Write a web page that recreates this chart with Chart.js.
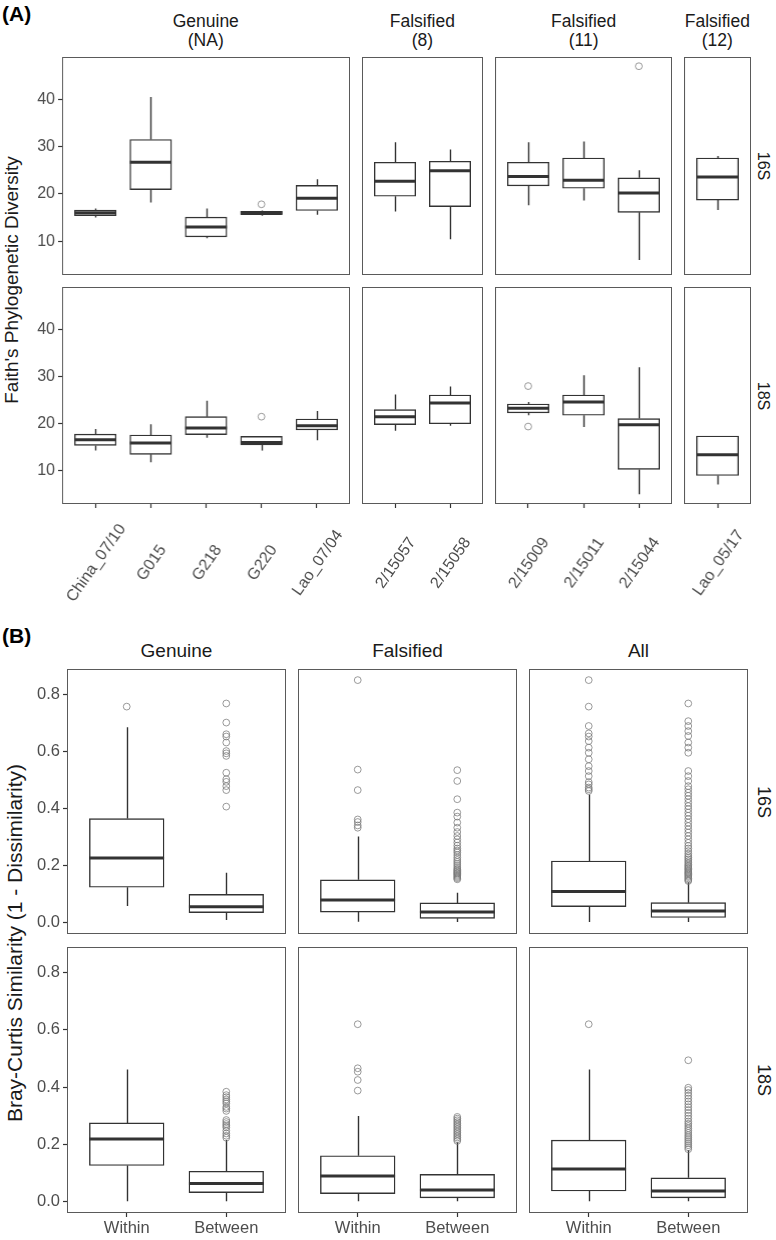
<!DOCTYPE html>
<html>
<head>
<meta charset="utf-8">
<script src="https://cdn.jsdelivr.net/npm/chart.js@4.4.1/dist/chart.umd.min.js"></script>
<style>
  body { margin: 0; background: #fff; font-family: "Liberation Sans", Arial, sans-serif; }
  #wrap { position: relative; width: 776px; height: 1240px; overflow: hidden; }
  #wrap canvas { position: absolute; }
  .t { position: absolute; color: #1a1a1a; white-space: nowrap; }
  .strip { text-align: center; }
  .side { transform: translate(-50%, -50%) rotate(90deg); }
  .ytitle { transform: translate(-50%, -50%) rotate(-90deg); }
  .tag { font-size: 21px; font-weight: bold; color: #000; }
</style>
</head>
<body>
<div id="wrap"></div>
<script>
// ---- panel A : Faith's phylogenetic diversity ----
const groupsA = ["Genuine<br>(NA)", "Falsified<br>(8)", "Falsified<br>(11)", "Falsified<br>(12)"];
const samplesA = [
  ["China_07/10", "G015", "G218", "G220", "Lao_07/04"],
  ["2/15057", "2/15058"],
  ["2/15009", "2/15011", "2/15044"],
  ["Lao_05/17"]
];
// [min, q1, median, q3, max]
const faith16S = [
  [[15.0, 15.4, 16.0, 16.6, 16.9], [18.2, 20.9, 26.7, 31.5, 40.5], [10.6, 10.9, 13.0, 15.1, 16.9], [15.4, 15.6, 16.0, 16.3, 16.5], [15.6, 16.5, 19.1, 21.8, 23.1]],
  [[16.3, 19.5, 22.7, 26.7, 30.9], [10.4, 17.3, 24.9, 26.9, 29.4]],
  [[17.6, 21.7, 23.7, 26.7, 30.9], [18.6, 21.2, 22.9, 27.6, 31.1], [6.0, 16.1, 20.2, 23.4, 25.0]],
  [[16.6, 18.7, 23.6, 27.6, 28.0]]
];
const faith16SOut = [
  [[], [], [], [17.8], []],
  [[], []],
  [[], [], [47.0]],
  [[]]
];
const faith18S = [
  [[14.2, 15.3, 16.5, 17.7, 18.8], [11.7, 13.4, 15.8, 17.5, 19.8], [16.9, 17.6, 19.0, 21.4, 24.8], [14.2, 15.4, 15.9, 17.2, 17.2], [16.4, 18.6, 19.5, 20.9, 22.6]],
  [[18.4, 19.7, 21.4, 22.9, 26.1], [19.5, 19.9, 24.3, 26.0, 27.8]],
  [[21.7, 22.2, 23.2, 24.1, 24.5], [19.2, 21.7, 24.5, 26.0, 30.2], [4.9, 10.2, 19.7, 21.0, 31.9]],
  [[7.0, 8.9, 13.3, 17.3, 17.3]]
];
const faith18SOut = [
  [[], [], [], [21.4], []],
  [[], []],
  [[27.9, 19.3], [], []],
  [[]]
];
const faithTicks = [10, 20, 30, 40];

// ---- panel B : Bray-Curtis similarity ----
const groupsB = ["Genuine", "Falsified", "All"];
const comparisons = ["Within", "Between"];
const bray16S = [
  [[0.058, 0.124, 0.227, 0.365, 0.686], [0.009, 0.035, 0.056, 0.099, 0.175]],
  [[0.003, 0.037, 0.079, 0.150, 0.302], [0.002, 0.015, 0.037, 0.069, 0.105]],
  [[0.002, 0.056, 0.109, 0.216, 0.450], [0.002, 0.018, 0.041, 0.070, 0.142]]
];
const bray16SOut = [
  [[0.758], [0.407, 0.465, 0.479, 0.494, 0.503, 0.526, 0.585, 0.594, 0.602, 0.632, 0.653, 0.661, 0.702, 0.769]],
  [[0.333, 0.341, 0.353, 0.362, 0.465, 0.537, 0.851],
   [0.152, 0.156, 0.160, 0.164, 0.168, 0.172, 0.175, 0.179, 0.183, 0.187, 0.192, 0.199, 0.206, 0.213, 0.220, 0.228, 0.237,
    0.246, 0.253, 0.260, 0.270, 0.281, 0.292, 0.304, 0.318, 0.333, 0.351, 0.372, 0.386, 0.433, 0.497, 0.535]],
  [[0.462, 0.468, 0.474, 0.485, 0.493, 0.514, 0.532, 0.549, 0.573, 0.596, 0.614, 0.637, 0.653, 0.664, 0.690, 0.758, 0.851],
   [0.146, 0.150, 0.155, 0.160, 0.164, 0.169, 0.173, 0.177, 0.181, 0.186, 0.190, 0.195, 0.199, 0.204, 0.210, 0.216, 0.222,
    0.228, 0.234, 0.242, 0.251, 0.260, 0.269, 0.280, 0.292, 0.304, 0.316, 0.327, 0.339, 0.351, 0.363, 0.375, 0.386, 0.398,
    0.409, 0.421, 0.433, 0.445, 0.456, 0.468, 0.479, 0.497, 0.514, 0.532, 0.596, 0.614, 0.632, 0.655, 0.672, 0.690, 0.707, 0.769]]
];
const bray18S = [
  [[0.001, 0.126, 0.219, 0.275, 0.462], [0.001, 0.031, 0.063, 0.106, 0.215]],
  [[0.001, 0.028, 0.089, 0.160, 0.299], [0.001, 0.013, 0.040, 0.095, 0.207]],
  [[0.001, 0.037, 0.114, 0.215, 0.462], [0.001, 0.013, 0.037, 0.083, 0.180]]
];
const bray18SOut = [
  [[], [0.223, 0.230, 0.238, 0.248, 0.259, 0.265, 0.271, 0.278, 0.285, 0.317, 0.325, 0.331, 0.343, 0.350, 0.357, 0.365, 0.372, 0.384]],
  [[0.388, 0.425, 0.454, 0.466, 0.620],
   [0.212, 0.218, 0.224, 0.230, 0.236, 0.242, 0.248, 0.254, 0.260, 0.266, 0.272, 0.278, 0.284, 0.290, 0.296]],
  [[0.620],
   [0.183, 0.190, 0.197, 0.204, 0.211, 0.218, 0.225, 0.232, 0.240, 0.248, 0.256, 0.264, 0.272, 0.280, 0.290, 0.300,
    0.310, 0.320, 0.330, 0.340, 0.350, 0.360, 0.370, 0.380, 0.390, 0.398, 0.494]]
];
const brayTicks = [0, 0.2, 0.4, 0.6, 0.8];

const wrap = document.getElementById("wrap");
const INK = "#333333";
const FONT = "'Liberation Sans', Arial, sans-serif";

// whiskers + medians + panel frame, all placed with the chart's scales
const boxPlugin = {
  id: "boxplot",
  beforeDatasetsDraw(chart) {
    const ds = chart.data.datasets[0];
    const xs = chart.scales.x, ys = chart.scales.y, ctx = chart.ctx;
    ctx.save();
    ctx.strokeStyle = INK;
    ctx.lineWidth = 1.4;
    ds.stats.forEach((s, i) => {
      const x = Math.round(xs.getPixelForValue(i)) + 0.5;
      ctx.beginPath();
      ctx.moveTo(x, ys.getPixelForValue(s[0]));
      ctx.lineTo(x, ys.getPixelForValue(s[1]));
      ctx.moveTo(x, ys.getPixelForValue(s[3]));
      ctx.lineTo(x, ys.getPixelForValue(s[4]));
      ctx.stroke();
    });
    ctx.restore();
  },
  afterDatasetsDraw(chart) {
    const ds = chart.data.datasets[0];
    const xs = chart.scales.x, ys = chart.scales.y, ctx = chart.ctx;
    const half = ds.barThickness / 2;
    ctx.save();
    ctx.strokeStyle = INK;
    ctx.lineWidth = 3;
    ds.stats.forEach((s, i) => {
      const x = xs.getPixelForValue(i), y = ys.getPixelForValue(s[2]);
      ctx.beginPath();
      ctx.moveTo(x - half, y);
      ctx.lineTo(x + half, y);
      ctx.stroke();
    });
    const a = chart.chartArea;
    ctx.strokeStyle = "#5a5a5a";
    ctx.lineWidth = 1;
    ctx.strokeRect(Math.round(a.left) + 0.5, Math.round(a.top) + 0.5, Math.round(a.right - a.left) - 1, Math.round(a.bottom - a.top) - 1);
    ctx.restore();
  }
};

// slanted sample names, centred under their tick like ggplot's angle=55, hjust=0.5
function slantPlugin(labels, size) {
  return {
    id: "slant",
    afterDraw(chart) {
      const xs = chart.scales.x, ctx = chart.ctx, bottom = chart.chartArea.bottom;
      ctx.save();
      ctx.fillStyle = "#4d4d4d";
      ctx.font = size + "px " + FONT;
      ctx.textAlign = "center";
      ctx.textBaseline = "middle";
      labels.forEach((l, i) => {
        ctx.save();
        ctx.translate(xs.getPixelForValue(i) + 1, bottom + 59);
        ctx.rotate(-55 * Math.PI / 180);
        ctx.fillText(l, 0, 0);
        ctx.restore();
      });
      ctx.restore();
    }
  };
}

function noPad(s) {
  s.paddingLeft = 0; s.paddingRight = 0; s.paddingTop = 0; s.paddingBottom = 0;
}

function facet(o) {
  const padL = o.showY ? o.axW : 0;
  const padB = o.showX ? o.axH : 0;
  const c = document.createElement("canvas");
  c.width = o.w + padL;
  c.height = o.h + padB;
  c.style.left = (o.x - padL) + "px";
  c.style.top = o.y + "px";
  c.style.width = (o.w + padL) + "px";
  c.style.height = (o.h + padB) + "px";
  wrap.appendChild(c);

  const n = o.labels.length;
  const unit = o.w / (n + 0.2);
  const pts = [];
  o.out.forEach((vals, i) => vals.forEach(v => pts.push({ x: i, y: v })));

  const tickFont = { family: FONT, size: o.tickSize };
  const tickGrid = { offset: false, drawOnChartArea: false, drawTicks: true, tickLength: 4, tickWidth: 1.2, tickColor: INK, color: INK };
  const plugins = [boxPlugin];
  if (o.showX && o.slant) plugins.push(slantPlugin(o.labels, o.tickSize));

  new Chart(c, {
    type: "bar",
    data: {
      datasets: [
        {
          type: "bar",
          data: o.stats.map((s, i) => ({ x: i, y: [s[1], s[3]] })),
          stats: o.stats,
          backgroundColor: "#ffffff",
          borderColor: INK,
          borderWidth: 1.4,
          borderSkipped: false,
          barThickness: unit * 0.75
        },
        {
          type: "scatter",
          data: pts,
          pointRadius: 3.4,
          borderWidth: 1,
          borderColor: "rgba(120,120,120,0.75)",
          backgroundColor: "rgba(0,0,0,0)"
        }
      ]
    },
    options: {
      responsive: false,
      animation: false,
      devicePixelRatio: 1,
      layout: { padding: 0, autoPadding: false },
      plugins: { legend: { display: false }, tooltip: { enabled: false } },
      scales: {
        x: {
          type: "linear",
          offset: false,
          min: -0.6,
          max: n - 0.4,
          display: o.showX,
          afterBuildTicks: s => { s.ticks = o.labels.map((l, i) => ({ value: i })); },
          afterFit: s => { s.height = o.showX ? o.axH : 0; noPad(s); },
          ticks: {
            display: !o.slant,
            callback: v => o.labels[v],
            autoSkip: false,
            maxRotation: 0,
            color: "#4d4d4d",
            font: tickFont,
            padding: 2
          },
          grid: tickGrid,
          border: { display: false }
        },
        y: {
          min: o.yMin,
          max: o.yMax,
          display: o.showY,
          afterBuildTicks: s => { s.ticks = o.yTicks.map(v => ({ value: v })); },
          afterFit: s => { s.width = o.showY ? o.axW : 0; noPad(s); },
          ticks: {
            callback: v => o.fmt(v),
            color: "#4d4d4d",
            font: tickFont,
            padding: 3
          },
          grid: tickGrid,
          border: { display: false }
        }
      }
    },
    plugins: plugins
  });
}

function text(cls, html, css) {
  const d = document.createElement("div");
  d.className = "t " + cls;
  d.innerHTML = html;
  Object.assign(d.style, css);
  wrap.appendChild(d);
}

// ---- layout of panel A ----
const unitA = 55.3;
let xA = 62;
const rowsA = [{ y: 57, h: 218, stats: faith16S, out: faith16SOut, side: "16S" },
               { y: 287, h: 217, stats: faith18S, out: faith18SOut, side: "18S" }];
samplesA.forEach((labels, g) => {
  const w = unitA * (labels.length + 0.2);
  rowsA.forEach((r, ri) => {
    facet({
      x: xA, y: r.y, w: w, h: r.h, labels: labels,
      stats: r.stats[g], out: r.out[g],
      showY: g === 0, showX: ri === 1, axW: 34, axH: 112, slant: true, tickSize: 16,
      yMin: 2.85, yMax: 48.95, yTicks: faithTicks, fmt: v => String(v)
    });
  });
  text("strip", groupsA[g], { left: xA + "px", top: "12px", width: w + "px", fontSize: "17.5px", lineHeight: "19px" });
  xA += w + 12;
});
rowsA.forEach(r => text("side", r.side, { left: "763px", top: (r.y + r.h / 2) + "px", fontSize: "16px" }));
text("ytitle", "Faith's Phylogenetic Diversity", { left: "12px", top: "280px", fontSize: "19px" });
text("tag", "(A)", { left: "2px", top: "2px" });

// ---- layout of panel B ----
const rowsB = [{ y: 669, h: 265, stats: bray16S, out: bray16SOut, side: "16S" },
               { y: 947, h: 266, stats: bray18S, out: bray18SOut, side: "18S" }];
groupsB.forEach((name, g) => {
  const x = 67 + g * 231;
  rowsB.forEach((r, ri) => {
    facet({
      x: x, y: r.y, w: 219, h: r.h, labels: comparisons,
      stats: r.stats[g], out: r.out[g],
      showY: g === 0, showX: ri === 1, axW: 37, axH: 27, slant: false, tickSize: 16.5,
      yMin: -0.04, yMax: 0.89, yTicks: brayTicks, fmt: v => v.toFixed(1)
    });
  });
  text("strip", name, { left: x + "px", top: "640px", width: "219px", fontSize: "19px" });
});
rowsB.forEach(r => text("side", r.side, { left: "763px", top: (r.y + r.h / 2) + "px", fontSize: "18px" }));
text("ytitle", "Bray-Curtis Similarity (1 - Dissimilarity)", { left: "15px", top: "943px", fontSize: "21px" });
text("tag", "(B)", { left: "2px", top: "624px" });
</script>
</body>
</html>
